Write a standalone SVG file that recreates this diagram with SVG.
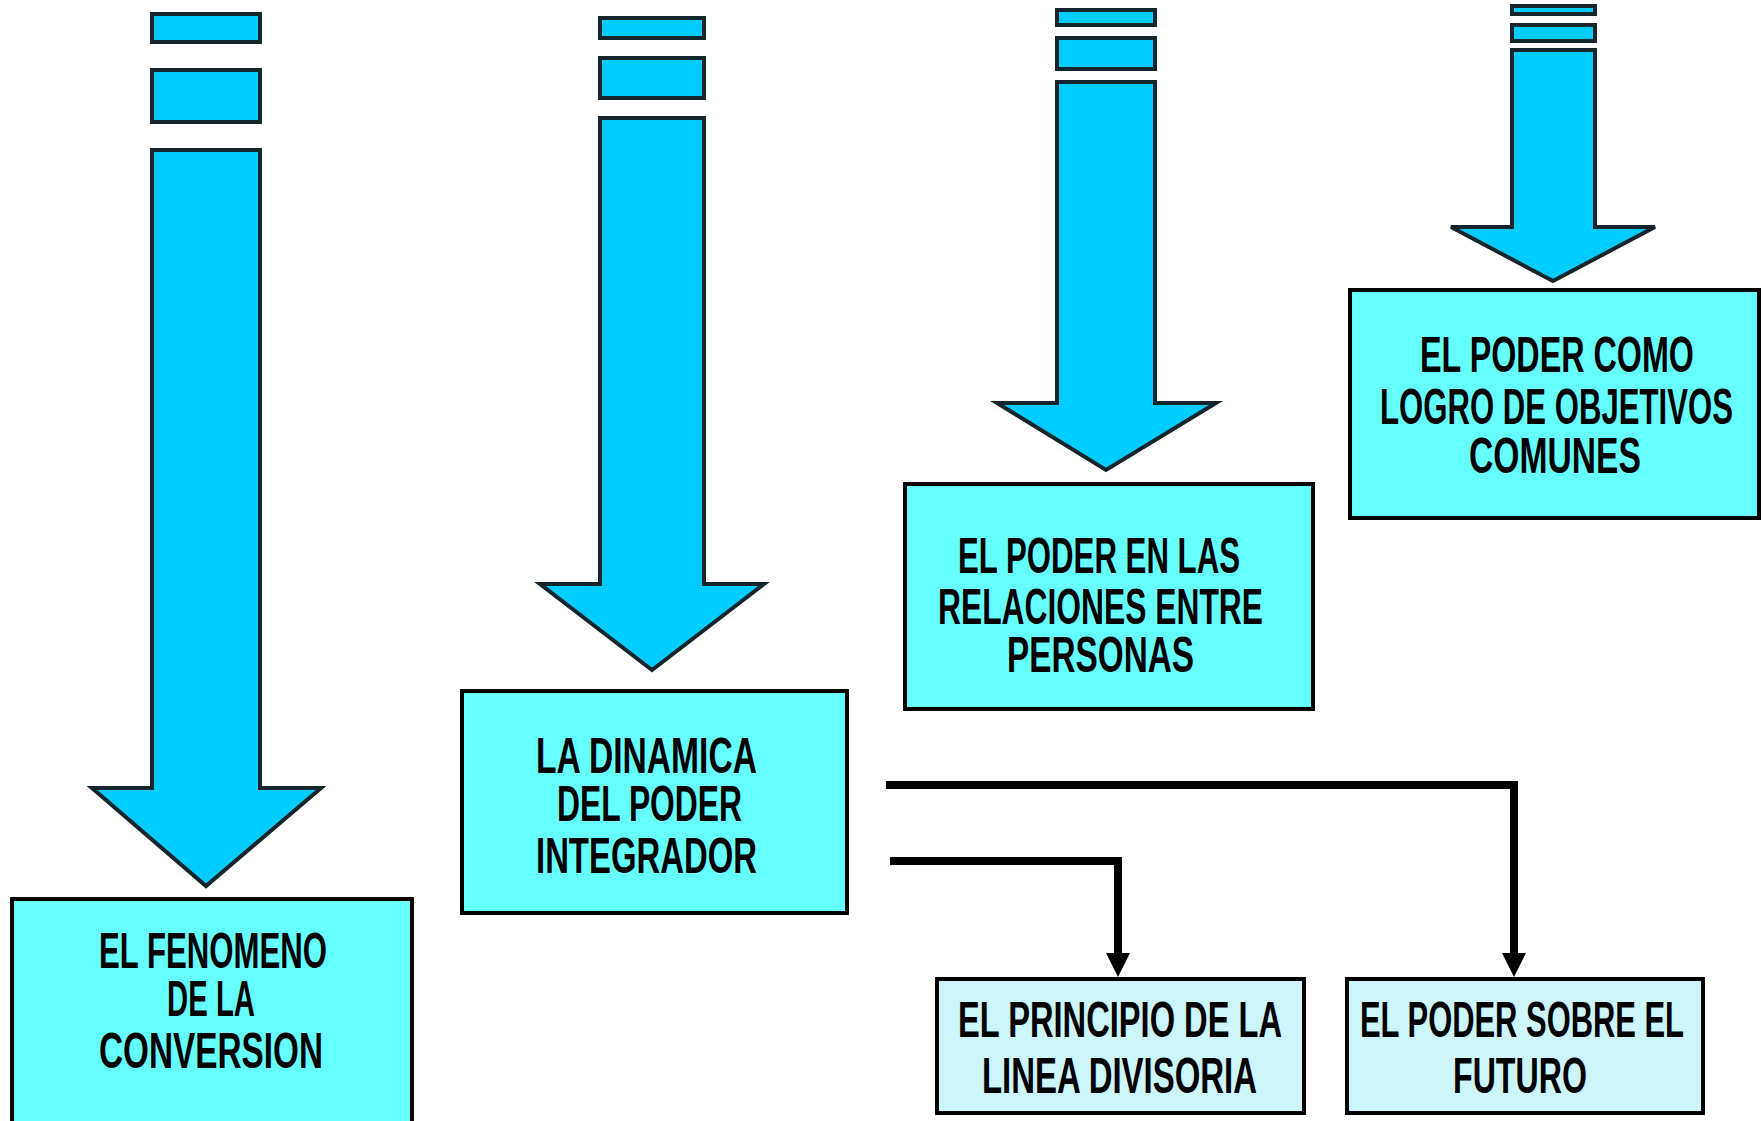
<svg xmlns="http://www.w3.org/2000/svg" width="1763" height="1121" viewBox="0 0 1763 1121">
<style>
.arw{fill:#00CCFF;stroke:#14262c;stroke-width:4;stroke-linejoin:miter}
.box{fill:#66FFFF;stroke:#000;stroke-width:4}
.box2{fill:#CCF5FC;stroke:#000;stroke-width:4}
.t{font-family:"Liberation Sans",Arial,sans-serif;font-weight:bold;font-size:31px;fill:#000}
.con{fill:none;stroke:#000;stroke-width:8;stroke-linejoin:miter}
</style>
<defs>
<marker id="ah" viewBox="0 0 24 24" markerWidth="24" markerHeight="24" refX="0" refY="12" orient="auto" markerUnits="userSpaceOnUse">
<path d="M0 0 L24 12 L0 24 Z" fill="#000"/>
</marker>
</defs>
<rect width="1763" height="1121" fill="#fff"/>

<g id="arrow1">
<rect class="arw" x="152" y="14" width="108" height="28"/>
<rect class="arw" x="152" y="70" width="108" height="52"/>
<polygon class="arw" points="152,150 260,150 260,788 321,788 206,886 92,788 152,788"/>
</g>
<g id="arrow2">
<rect class="arw" x="600" y="18" width="104" height="20"/>
<rect class="arw" x="600" y="58" width="104" height="40"/>
<polygon class="arw" points="600,118 704,118 704,584 764,584 652,670 540,584 600,584"/>
</g>
<g id="arrow3">
<rect class="arw" x="1057" y="10" width="98" height="15"/>
<rect class="arw" x="1057" y="38" width="98" height="31"/>
<polygon class="arw" points="1057,82 1155,82 1155,403 1216,403 1106,470 997,403 1057,403"/>
</g>
<g id="arrow4">
<rect class="arw" x="1512" y="6" width="83" height="8"/>
<rect class="arw" x="1512" y="25" width="83" height="16"/>
<polygon class="arw" points="1512,50 1595,50 1595,227 1655,227 1553,281 1451,227 1512,227"/>
</g>

<g id="node-fenomeno">
<rect class="box" x="12" y="899" width="400" height="240"/>
<text class="t" transform="matrix(1 0 0 1.62 99 968)" textLength="228" lengthAdjust="spacingAndGlyphs">EL FENOMENO</text>
<text class="t" transform="matrix(1 0 0 1.62 167 1016)" textLength="88" lengthAdjust="spacingAndGlyphs">DE LA</text>
<text class="t" transform="matrix(1 0 0 1.62 99 1068)" textLength="224" lengthAdjust="spacingAndGlyphs">CONVERSION</text>
</g>
<g id="node-dinamica">
<rect class="box" x="462" y="691" width="385" height="222"/>
<text class="t" transform="matrix(1 0 0 1.62 536 773)" textLength="221" lengthAdjust="spacingAndGlyphs">LA DINAMICA</text>
<text class="t" transform="matrix(1 0 0 1.62 557 821)" textLength="185" lengthAdjust="spacingAndGlyphs">DEL PODER</text>
<text class="t" transform="matrix(1 0 0 1.62 536 873)" textLength="221" lengthAdjust="spacingAndGlyphs">INTEGRADOR</text>
</g>
<g id="node-relaciones">
<rect class="box" x="905" y="484" width="408" height="225"/>
<text class="t" transform="matrix(1 0 0 1.62 958 573)" textLength="282" lengthAdjust="spacingAndGlyphs">EL PODER EN LAS</text>
<text class="t" transform="matrix(1 0 0 1.62 938 624)" textLength="325" lengthAdjust="spacingAndGlyphs">RELACIONES ENTRE</text>
<text class="t" transform="matrix(1 0 0 1.62 1007 672)" textLength="187" lengthAdjust="spacingAndGlyphs">PERSONAS</text>
</g>
<g id="node-objetivos">
<rect class="box" x="1350" y="290" width="409" height="228"/>
<text class="t" transform="matrix(1 0 0 1.62 1420 372)" textLength="274" lengthAdjust="spacingAndGlyphs">EL PODER COMO</text>
<text class="t" transform="matrix(1 0 0 1.62 1380 424)" textLength="353" lengthAdjust="spacingAndGlyphs">LOGRO DE OBJETIVOS</text>
<text class="t" transform="matrix(1 0 0 1.62 1469 473)" textLength="172" lengthAdjust="spacingAndGlyphs">COMUNES</text>
</g>
<g id="node-linea">
<rect class="box2" x="937" y="979" width="367" height="134"/>
<text class="t" transform="matrix(1 0 0 1.62 958 1037)" textLength="324" lengthAdjust="spacingAndGlyphs">EL PRINCIPIO DE LA</text>
<text class="t" transform="matrix(1 0 0 1.62 982 1093)" textLength="275" lengthAdjust="spacingAndGlyphs">LINEA DIVISORIA</text>
</g>
<g id="node-futuro">
<rect class="box2" x="1347" y="979" width="356" height="134"/>
<text class="t" transform="matrix(1 0 0 1.62 1360 1037)" textLength="324" lengthAdjust="spacingAndGlyphs">EL PODER SOBRE EL</text>
<text class="t" transform="matrix(1 0 0 1.62 1453 1093)" textLength="134" lengthAdjust="spacingAndGlyphs">FUTURO</text>
</g>

<g id="connectors">
<path class="con" d="M886 785 H1514 V953" marker-end="url(#ah)"/>
<path class="con" d="M890 861 H1118 V953" marker-end="url(#ah)"/>
</g>
</svg>
